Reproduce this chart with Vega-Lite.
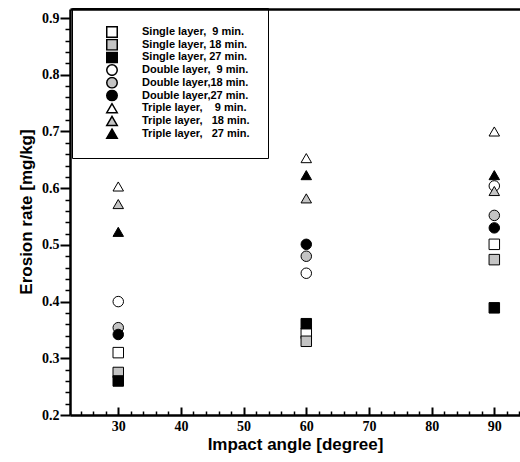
{
  "$schema": "https://vega.github.io/schema/vega-lite/v6.json",
  "width": 450,
  "height": 406,
  "autosize": "none",
  "padding": {"left": 70, "top": 9, "right": 0, "bottom": 47},
  "background": "white",
  "title": {"text": "Erosion rate [mg/kg]", "orient": "left", "anchor": "middle", "frame": "group", "font": "Liberation Sans", "fontSize": 17, "fontWeight": "bold", "color": "black", "offset": 6},
  "config": {
    "view": {"stroke": null},
    "axis": {"domainColor": "black", "tickColor": "black", "labelColor": "black", "titleColor": "black", "grid": false}
  },
  "data": {
    "values": [
      {"angle": 30, "series": "Single layer,\u00a0\u00a09 min.", "rate": 0.31},
      {"angle": 30, "series": "Single layer, 18 min.", "rate": 0.275},
      {"angle": 30, "series": "Single layer, 27 min.", "rate": 0.26},
      {"angle": 30, "series": "Double layer,\u00a0\u00a09 min.", "rate": 0.40},
      {"angle": 30, "series": "Double layer,18 min.", "rate": 0.354},
      {"angle": 30, "series": "Double layer,27 min.", "rate": 0.342},
      {"angle": 30, "series": "Triple layer,\u00a0\u00a0\u00a0\u00a09 min.", "rate": 0.603},
      {"angle": 30, "series": "Triple layer,\u00a0\u00a0\u00a018 min.", "rate": 0.572},
      {"angle": 30, "series": "Triple layer,\u00a0\u00a0\u00a027 min.", "rate": 0.523},
      {"angle": 60, "series": "Single layer,\u00a0\u00a09 min.", "rate": 0.344},
      {"angle": 60, "series": "Single layer, 18 min.", "rate": 0.33},
      {"angle": 60, "series": "Single layer, 27 min.", "rate": 0.361},
      {"angle": 60, "series": "Double layer,\u00a0\u00a09 min.", "rate": 0.45},
      {"angle": 60, "series": "Double layer,18 min.", "rate": 0.48},
      {"angle": 60, "series": "Double layer,27 min.", "rate": 0.501},
      {"angle": 60, "series": "Triple layer,\u00a0\u00a0\u00a0\u00a09 min.", "rate": 0.653},
      {"angle": 60, "series": "Triple layer,\u00a0\u00a0\u00a018 min.", "rate": 0.582},
      {"angle": 60, "series": "Triple layer,\u00a0\u00a0\u00a027 min.", "rate": 0.623},
      {"angle": 90, "series": "Single layer,\u00a0\u00a09 min.", "rate": 0.501},
      {"angle": 90, "series": "Single layer, 18 min.", "rate": 0.474},
      {"angle": 90, "series": "Single layer, 27 min.", "rate": 0.389},
      {"angle": 90, "series": "Double layer,\u00a0\u00a09 min.", "rate": 0.604},
      {"angle": 90, "series": "Double layer,18 min.", "rate": 0.552},
      {"angle": 90, "series": "Double layer,27 min.", "rate": 0.53},
      {"angle": 90, "series": "Triple layer,\u00a0\u00a0\u00a0\u00a09 min.", "rate": 0.70},
      {"angle": 90, "series": "Triple layer,\u00a0\u00a0\u00a018 min.", "rate": 0.595},
      {"angle": 90, "series": "Triple layer,\u00a0\u00a0\u00a027 min.", "rate": 0.623}
    ]
  },
  "layer": [
    {
      "mark": {"type": "point", "filled": true, "stroke": "black", "strokeWidth": 1, "size": 110, "opacity": 1},
      "encoding": {
        "x": {
          "field": "angle", "type": "quantitative",
          "scale": {"domain": [22.3, 94.1], "nice": false, "zero": false},
          "axis": {
            "orient": "bottom",
            "values": [24, 26, 28, 30, 32, 34, 36, 38, 40, 42, 44, 46, 48, 50, 52, 54, 56, 58, 60, 62, 64, 66, 68, 70, 72, 74, 76, 78, 80, 82, 84, 86, 88, 90, 92, 94],
            "labelExpr": "datum.value % 10 === 0 ? datum.label : ''",
            "tickSize": {"condition": {"test": "datum.value % 10 === 0", "value": -8}, "value": -4},
            "tickWidth": {"condition": {"test": "datum.value % 10 === 0", "value": 2}, "value": 1.5},
            "labelFont": "Liberation Serif", "labelFontWeight": "bold", "labelFontSize": 14, "labelPadding": 12,
            "domainWidth": 2.5, "title": "Impact angle [degree]", "titleFont": "Liberation Sans",
            "titleFontSize": 17, "titleFontWeight": "bold", "titlePadding": 3
          }
        },
        "y": {
          "field": "rate", "type": "quantitative",
          "scale": {"domain": [0.2, 0.916], "nice": false, "zero": false},
          "axis": {
            "orient": "left",
            "values": [0.2, 0.22, 0.24, 0.26, 0.28, 0.3, 0.32, 0.34, 0.36, 0.38, 0.4, 0.42, 0.44, 0.46, 0.48, 0.5, 0.52, 0.54, 0.56, 0.58, 0.6, 0.62, 0.64, 0.66, 0.68, 0.7, 0.72, 0.74, 0.76, 0.78, 0.8, 0.82, 0.84, 0.86, 0.88, 0.9],
            "labelExpr": "abs(datum.value * 10 - round(datum.value * 10)) < 0.001 ? format(datum.value, '.1f') : ''",
            "tickSize": {"condition": {"test": "abs(datum.value * 10 - round(datum.value * 10)) < 0.001", "value": 10}, "value": 5},
            "tickWidth": {"condition": {"test": "abs(datum.value * 10 - round(datum.value * 10)) < 0.001", "value": 2}, "value": 1.5},
            "labelPadding": 1,
            "labelFont": "Liberation Serif", "labelFontWeight": "bold", "labelFontSize": 14,
            "domainWidth": 2.5, "title": null
          }
        },
        "fill": {
          "field": "series", "type": "nominal",
          "scale": {
            "domain": ["Single layer,\u00a0\u00a09 min.", "Single layer, 18 min.", "Single layer, 27 min.", "Double layer,\u00a0\u00a09 min.", "Double layer,18 min.", "Double layer,27 min.", "Triple layer,\u00a0\u00a0\u00a0\u00a09 min.", "Triple layer,\u00a0\u00a0\u00a018 min.", "Triple layer,\u00a0\u00a0\u00a027 min."],
            "range": ["white", "#c4c4c4", "black", "white", "#c4c4c4", "black", "white", "#c4c4c4", "black"]
          },
          "legend": {
            "orient": "none", "legendX": 2, "legendY": -1, "title": null,
            "strokeColor": "black", "padding": 18, "symbolOffset": 16, "labelOffset": 24,
            "symbolSize": 110, "rowPadding": 0.7, "clipHeight": 12,
            "labelFont": "Liberation Sans", "labelFontWeight": "bold", "labelFontSize": 11, "labelColor": "black",
            "labelLimit": 300,
            "encode": {"symbols": {"update": {"stroke": {"value": "black"}, "strokeWidth": {"value": 1}}}, "legend": {"update": {"strokeWidth": {"value": 1.5}}}}
          }
        },
        "shape": {
          "field": "series", "type": "nominal",
          "scale": {
            "domain": ["Single layer,\u00a0\u00a09 min.", "Single layer, 18 min.", "Single layer, 27 min.", "Double layer,\u00a0\u00a09 min.", "Double layer,18 min.", "Double layer,27 min.", "Triple layer,\u00a0\u00a0\u00a0\u00a09 min.", "Triple layer,\u00a0\u00a0\u00a018 min.", "Triple layer,\u00a0\u00a0\u00a027 min."],
            "range": ["square", "square", "square", "circle", "circle", "circle", "triangle-up", "triangle-up", "triangle-up"]
          },
          "legend": {
            "orient": "none", "legendX": 2, "legendY": -1, "title": null,
            "strokeColor": "black", "padding": 18, "symbolOffset": 16, "labelOffset": 24,
            "symbolSize": 110, "rowPadding": 0.7, "clipHeight": 12,
            "labelFont": "Liberation Sans", "labelFontWeight": "bold", "labelFontSize": 11, "labelColor": "black",
            "labelLimit": 300,
            "encode": {"symbols": {"update": {"stroke": {"value": "black"}, "strokeWidth": {"value": 1}}}, "legend": {"update": {"strokeWidth": {"value": 1.5}}}}
          }
        }
      }
    },
    {
      "mark": {"type": "point", "opacity": 0},
      "encoding": {
        "x": {
          "field": "angle", "type": "quantitative",
          "scale": {"domain": [22.3, 94.1], "nice": false, "zero": false},
          "axis": {"orient": "top", "labels": false, "ticks": false, "domain": true, "domainWidth": 2.5, "title": null}
        }
      }
    }
  ],
  "resolve": {"axis": {"x": "independent"}}
}
